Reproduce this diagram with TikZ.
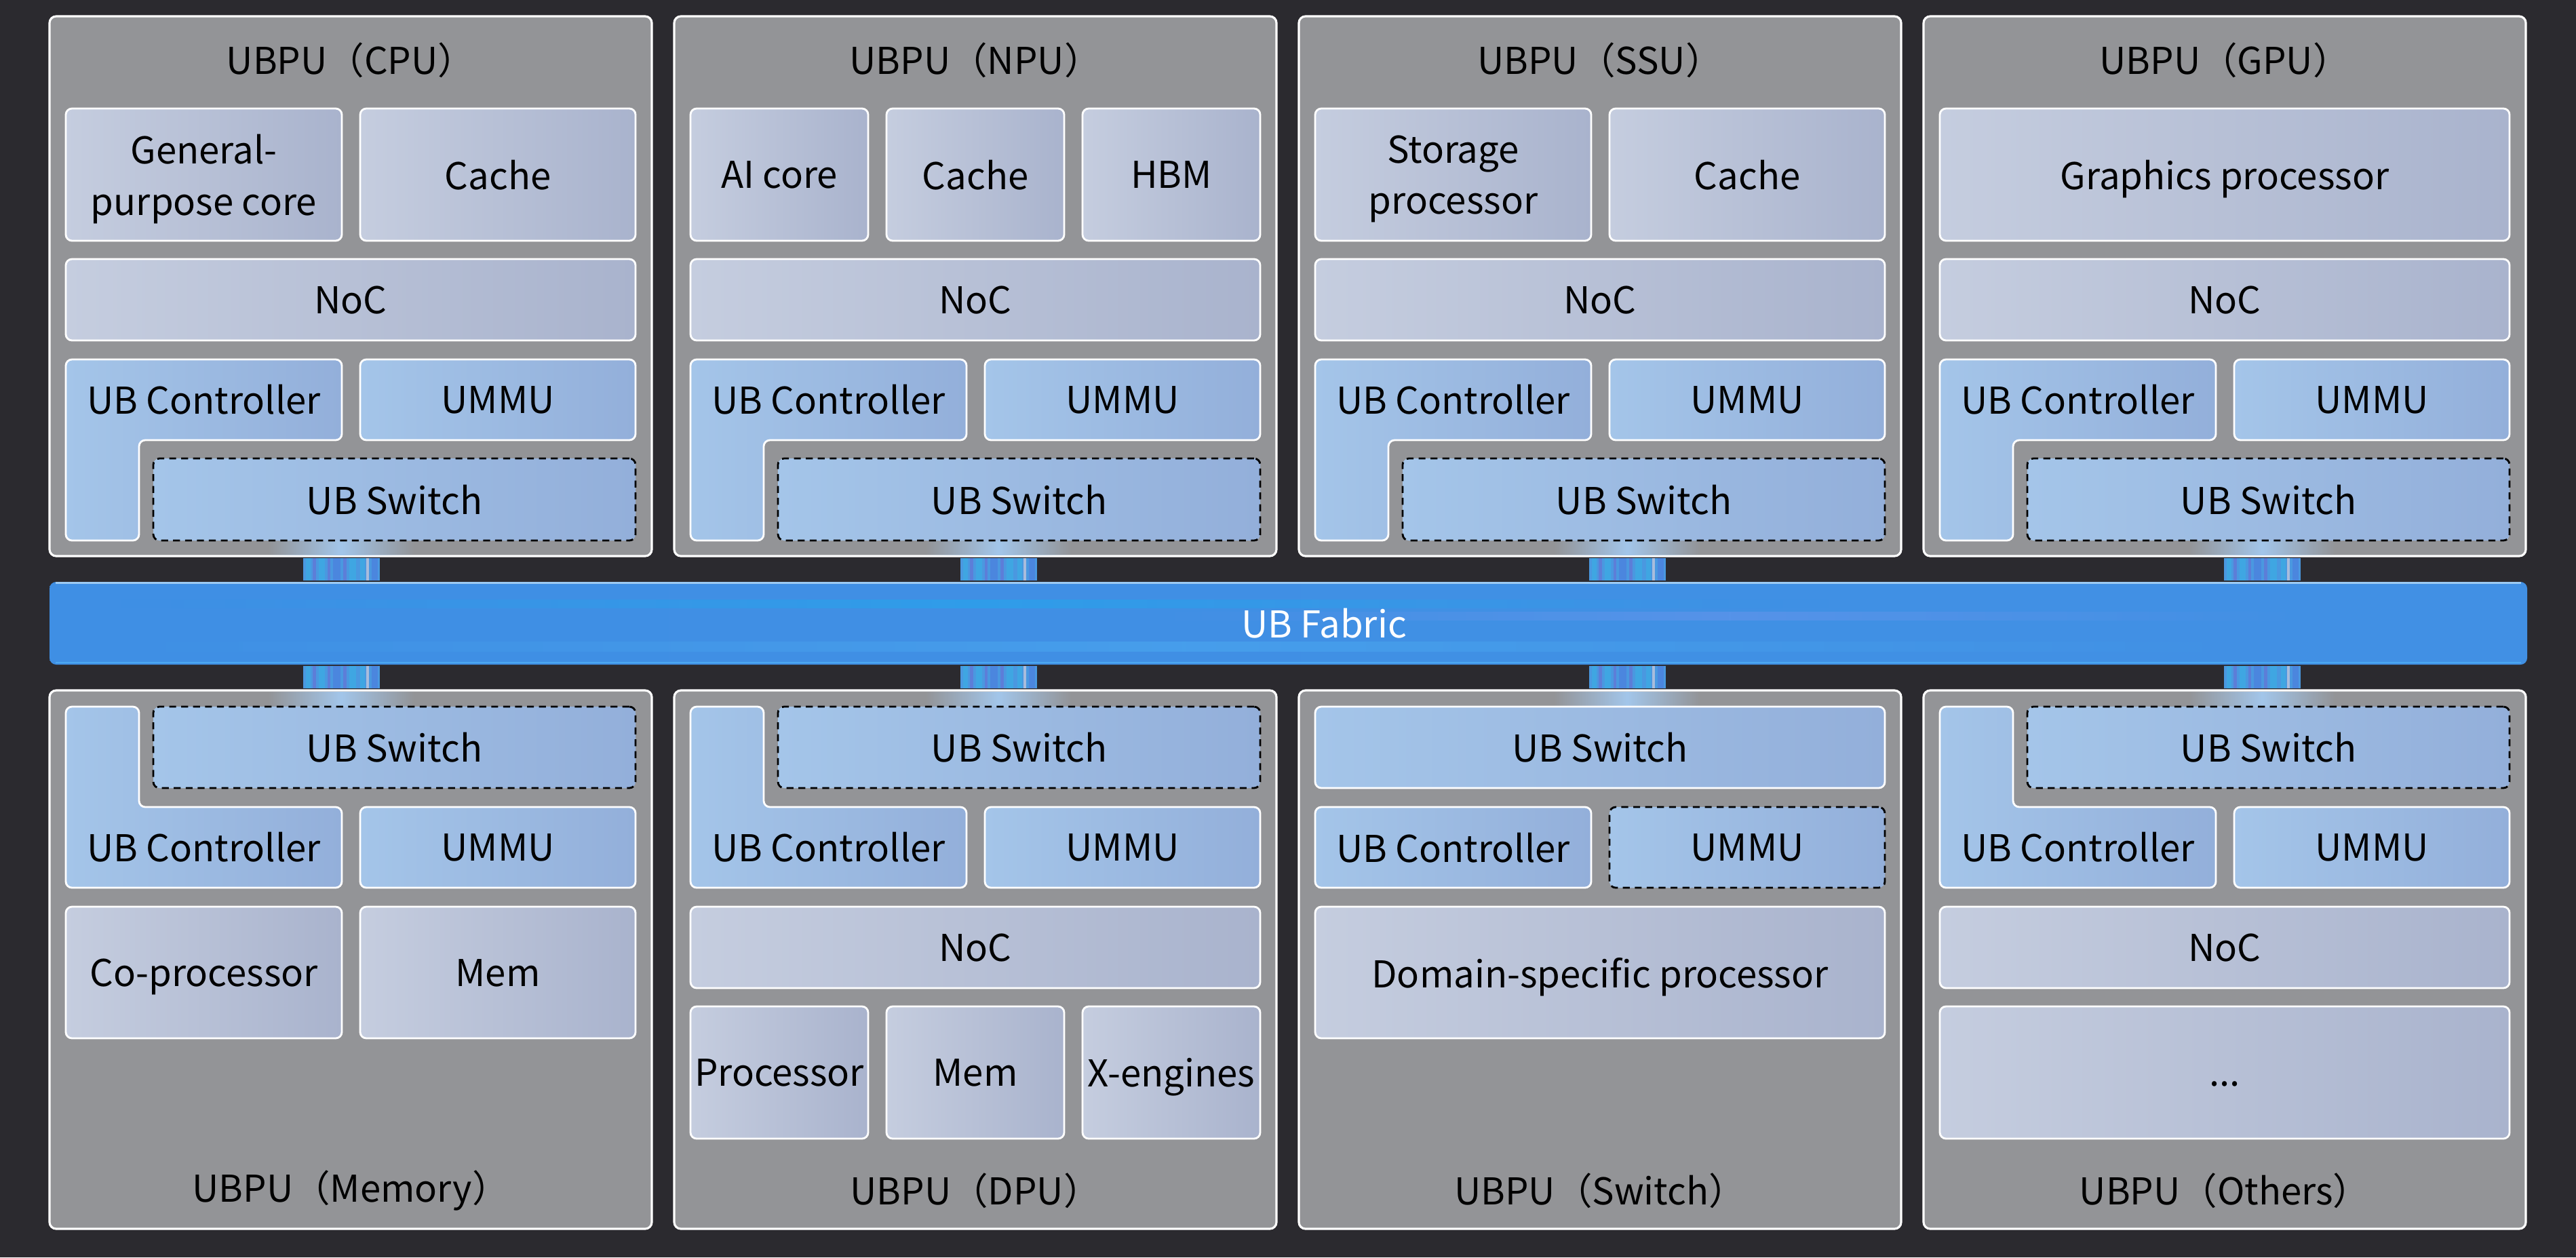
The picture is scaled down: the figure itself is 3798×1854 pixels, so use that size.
\documentclass[tikz,border=0pt]{standalone}
\usepackage{fontspec}
\setmainfont{Noto Sans CJK SC}
\usetikzlibrary{calc,fadings}

\definecolor{bgdark}{HTML}{2B2A2F}
\definecolor{ubpugray}{HTML}{939497}
\definecolor{partL}{HTML}{C5CDDF}
\definecolor{partR}{HTML}{A9B3CD}
\definecolor{ubL}{HTML}{A4C5E9}
\definecolor{ubR}{HTML}{93AFDA}
\definecolor{fabL}{HTML}{3F8FE4}
\definecolor{fabM}{HTML}{1D79DE}
\definecolor{fabR}{HTML}{4190E4}
\definecolor{fabEdge}{HTML}{9CCAF3}
\definecolor{streakA}{HTML}{22A8EE}
\definecolor{streakB}{HTML}{6C96EE}
\definecolor{streakC}{HTML}{4BA8F0}
\definecolor{linkbase}{HTML}{4A98E0}
\definecolor{linkC}{HTML}{3FA6E2}
\definecolor{linkP}{HTML}{5C7ED8}
\definecolor{linkD}{HTML}{4B86DE}
\definecolor{linkW}{HTML}{A9BCDC}
\definecolor{glowc}{HTML}{A3C6EA}

\newcommand{\lbl}{\fontsize{15.5}{21.5}\selectfont}
\tikzfading[name=glowfade, left color=transparent!100, right color=transparent!100, middle color=transparent!0]

\tikzset{
  ubpu/.style={fill=ubpugray, draw=white, line width=0.9pt, rounded corners=2.8pt, inner sep=0pt},
  part/.style={draw=white, line width=0.8pt, rounded corners=2.6pt, left color=partL, right color=partR, inner sep=0pt, font=\lbl, align=center, text depth=0pt},
  ubpart/.style={part, left color=ubL, right color=ubR},
  dashpart/.style={ubpart, draw=black, dash pattern=on 2.9pt off 2.1pt},
  ttl/.style={inner sep=0pt, font=\lbl, align=center},
  fabric/.style={inner sep=0pt, rounded corners=2.8pt, left color=fabL, middle color=fabM, right color=fabR},
  streak/.style={path fading=glowfade},
}

% box from corner (x1,y1) to corner (x2,y2): \blk[style]{name}{x1}{y1}{x2}{y2}{text}
\newcommand{\blk}[7][part]{%
  \node[#1, minimum width={((#5)-(#3))*0.01cm}, minimum height={((#6)-(#4))*0.01cm}]
    (#2) at ({((#3)+(#5))/2},{((#4)+(#6))/2}) {#7};}

% striped link between a UBPU and the fabric
\newcommand{\ublink}[2]{%
  \path #1 coordinate (la) #2 coordinate (lb);
  \fill[linkbase] ($(la)+(-56,1.5)$) rectangle ($(lb)+(57,-1.5)$);
  \foreach \dx/\w/\cl in {-52/7/linkC,-42/5/linkP,-33/9/linkC,-20/4/linkP,-12/11/linkD,3/5/linkP,12/10/linkC,28/7/linkC,37/4/linkW,45/9/linkD}
    \fill[\cl] ($(la)+(\dx,1.5)$) rectangle ($(lb)+(\dx+\w,-1.5)$);
}

\begin{document}
\begin{tikzpicture}[x=0.01cm, y=-0.01cm]
  \useasboundingbox (0,0) rectangle (3798,1854);
  \fill[bgdark] (0,0) rectangle (3798,1854);

  % UB Fabric
  \blk[fabric]{fabric}{73}{858}{3726}{980}{}
  \draw[fabEdge, line width=0.8pt] (82,859.5) -- (3717,859.5);
  \fill[streakA, opacity=0.55, streak] (180,884) rectangle (2700,897);
  \fill[streakB, opacity=0.5, streak] (1700,902) rectangle (3400,915);
  \fill[streakC, opacity=0.6, streak] (140,946) rectangle (3350,961);
  \draw[streakC, line width=0.8pt] (82,977) -- (3717,977);
  \node[ttl, text=white] (fabric-lbl) at (1952,919) {UB Fabric};

  % top row
  \foreach \n/\t/\x/\bx in {cpu/CPU/0/503, npu/NPU/921/1472, ssu/SSU/1842/2399, gpu/GPU/2763/3335}{
    \blk[ubpu]{\n}{\x+73}{24}{\x+961}{820}{}
    \fill[glowc, streak] (\bx-108,797) rectangle (\bx+108,818.5);
    \node[ttl] (\n-title) at (\x+517,89) {UBPU（\t）};
    \blk[part]{\n-noc}{\x+97}{382}{\x+937}{502}{NoC}
    \draw[ubpart] (\x+97,530) -- (\x+504,530) -- (\x+504,649) -- (\x+205,649) -- (\x+205,797) -- (\x+97,797) -- cycle;
    \node[ttl] (\n-ctl) at (\x+300.5,589.5) {UB Controller};
    \blk[ubpart]{\n-ummu}{\x+531}{530}{\x+937}{649}{UMMU}
    \blk[dashpart]{\n-sw}{\x+226}{676}{\x+937}{797}{UB Switch}
  }
  \blk{cpu-core}{97}{160}{504}{355}{General-\\purpose core}
  \blk{cpu-cache}{531}{160}{937}{355}{Cache}
  \blk{npu-core}{1018}{160}{1280}{355}{AI core}
  \blk{npu-cache}{1307}{160}{1569}{355}{Cache}
  \blk{npu-hbm}{1596}{160}{1858}{355}{HBM}
  \blk{ssu-proc}{1939}{160}{2346}{355}{Storage\\processor}
  \blk{ssu-cache}{2373}{160}{2779}{355}{Cache}
  \blk{gpu-proc}{2860}{160}{3700}{355}{Graphics processor}

  % bottom row
  \foreach \n/\t/\x/\bx in {mem/Memory/0/503, dpu/DPU/921/1472, oth/Others/2763/3335}{
    \blk[ubpu]{\n}{\x+73}{1018}{\x+961}{1812}{}
    \fill[glowc, streak] (\bx-108,1019.5) rectangle (\bx+108,1042);
    \node[ttl] (\n-title) at (\x+517,1756) {UBPU（\t）};
    \blk[dashpart]{\n-sw}{\x+226}{1042}{\x+937}{1162}{UB Switch}
    \draw[ubpart] (\x+97,1042) -- (\x+205,1042) -- (\x+205,1190) -- (\x+504,1190) -- (\x+504,1309) -- (\x+97,1309) -- cycle;
    \node[ttl] (\n-ctl) at (\x+300.5,1249.5) {UB Controller};
    \blk[ubpart]{\n-ummu}{\x+531}{1190}{\x+937}{1309}{UMMU}
  }
  \blk[ubpu]{swi}{1915}{1018}{2803}{1812}{}
  \fill[glowc, streak] (2291,1019.5) rectangle (2507,1042);
  \node[ttl] (swi-title) at (2359,1756) {UBPU（Switch）};
  \blk[ubpart]{swi-sw}{1939}{1042}{2779}{1162}{UB Switch}
  \blk[ubpart]{swi-ctl}{1939}{1190}{2346}{1309}{UB Controller}
  \blk[dashpart]{swi-ummu}{2373}{1190}{2779}{1309}{UMMU}
  \blk{swi-proc}{1939}{1337}{2779}{1531}{Domain-specific processor}

  \blk{mem-cop}{97}{1337}{504}{1531}{Co-processor}
  \blk{mem-mem}{531}{1337}{937}{1531}{Mem}
  \blk{dpu-noc}{1018}{1337}{1858}{1457}{NoC}
  \blk{dpu-proc}{1018}{1484}{1280}{1679}{Processor}
  \blk{dpu-mem}{1307}{1484}{1569}{1679}{Mem}
  \blk{dpu-xeng}{1596}{1484}{1858}{1679}{X-engines}
  \blk{oth-noc}{2860}{1337}{3700}{1457}{NoC}
  \blk{oth-more}{2860}{1484}{3700}{1679}{...\vphantom{X}}

  % links to the fabric
  \foreach \n/\bx in {cpu/503, npu/1472, ssu/2399, gpu/3335}{
    \coordinate (\n-x) at (\bx,0);
    \ublink{(\n.south -| \n-x)}{(fabric.north -| \n-x)}
  }
  \foreach \n/\bx in {mem/503, dpu/1472, swi/2399, oth/3335}{
    \coordinate (\n-x) at (\bx,0);
    \ublink{(fabric.south -| \n-x)}{(\n.north -| \n-x)}
  }
\end{tikzpicture}
\end{document}
